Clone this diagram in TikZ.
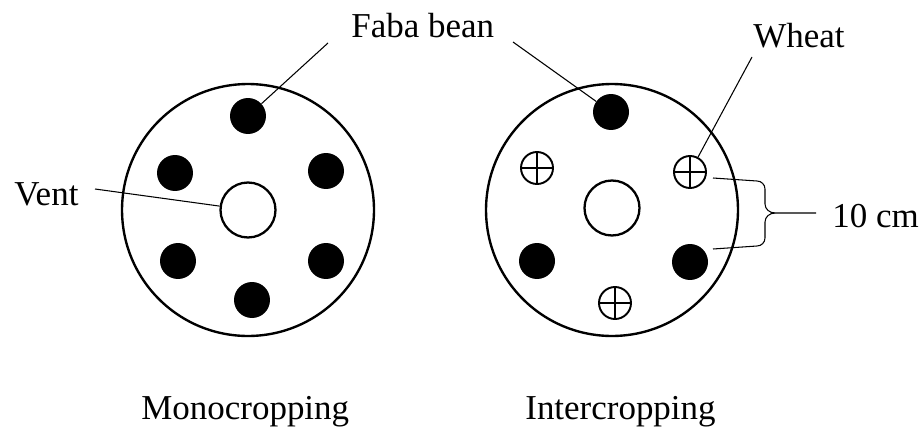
\documentclass[tikz,border=0pt]{standalone}
\usepackage{fontspec}
\setmainfont{Liberation Serif}
\usetikzlibrary{positioning}

\begin{document}
\begin{tikzpicture}[
    x=0.02cm, y=-0.02cm,
    pot_node/.style={draw, circle, line width=1.35pt, minimum size=5.04cm, inner sep=0pt},
    vent_node/.style={draw, circle, line width=1.3pt, minimum size=1.1cm, inner sep=0pt},
    bean_node/.style={circle, fill=black, minimum size=0.72cm, inner sep=0pt},
    wheat_node/.style={draw, circle, line width=1.1pt, minimum size=0.64cm, inner sep=0pt,
        path picture={\draw[line width=1.1pt]
            (path picture bounding box.north) -- (path picture bounding box.south)
            (path picture bounding box.west) -- (path picture bounding box.east);}},
    text_node/.style={inner sep=0pt, anchor=base west, font=\fontsize{19.9pt}{24pt}\selectfont},
    leader_edge/.style={line width=0.6pt}
]
\useasboundingbox (0,0) rectangle (923,436);

% --- POTS ---
\node[pot_node] (pot_mono) at (248,210) {};
\node[pot_node] (pot_inter) at (612,210) {};
\node[vent_node] (vent_mono) at (pot_mono.center) {};
\node[vent_node] (vent_inter) at (612,208) {};

% Monocropping: faba bean only
\node[bean_node] (bean_m1) at (248,116) {};
\node[bean_node] (bean_m2) at (175,173) {};
\node[bean_node] (bean_m3) at (326,171) {};
\node[bean_node] (bean_m4) at (178,261) {};
\node[bean_node] (bean_m5) at (326,261) {};
\node[bean_node] (bean_m6) at (252,300) {};

% Intercropping: faba bean and wheat
\node[bean_node] (bean_i1) at (611,112) {};
\node[wheat_node] (wheat_i1) at (537,168) {};
\node[wheat_node] (wheat_i2) at (690,172) {};
\node[bean_node] (bean_i2) at (537,261) {};
\node[bean_node] (bean_i3) at (690,262) {};
\node[wheat_node] (wheat_i3) at (615,303) {};

% --- LABELS ---
\node[text_node] (faba_lbl) at (351,37) {Faba bean};
\node[text_node] (wheat_lbl) at (753,47) {Wheat};
\node[text_node] (vent_lbl) at (14,205) {Vent};
\node[text_node] (dist_lbl) at (832,227) {10 cm};
\node[text_node] (mono_lbl) at (141,419) {Monocropping};
\node[text_node] (inter_lbl) at (525,419) {Intercropping};

\coordinate (faba_l) at (328,43);
\coordinate (faba_r) at (513,42);
\coordinate (wheat_end) at (752,57);
\coordinate (vent_end) at (95,189);
\coordinate (brace_top) at (713,178);
\coordinate (brace_bot) at (713,249);
\coordinate (brace_tip) at (816,213);

% --- LEADERS ---
\draw[leader_edge] (faba_l) -- (bean_m1);
\draw[leader_edge] (faba_r) -- (bean_i1);
\draw[leader_edge] (wheat_end) -- (wheat_i2);
\draw[leader_edge] (vent_end) -- (vent_mono);

% Brace for the 10 cm spacing
\draw[leader_edge] (brace_top) -- (757,181) to[out=0, in=90] (765,189) -- (765,204)
    to[out=-90, in=180] (775,213) -- (brace_tip);
\draw[leader_edge] (brace_bot) -- (757,246) to[out=0, in=-90] (765,238) -- (765,222)
    to[out=90, in=180] (775,213);

\end{tikzpicture}
\end{document}
